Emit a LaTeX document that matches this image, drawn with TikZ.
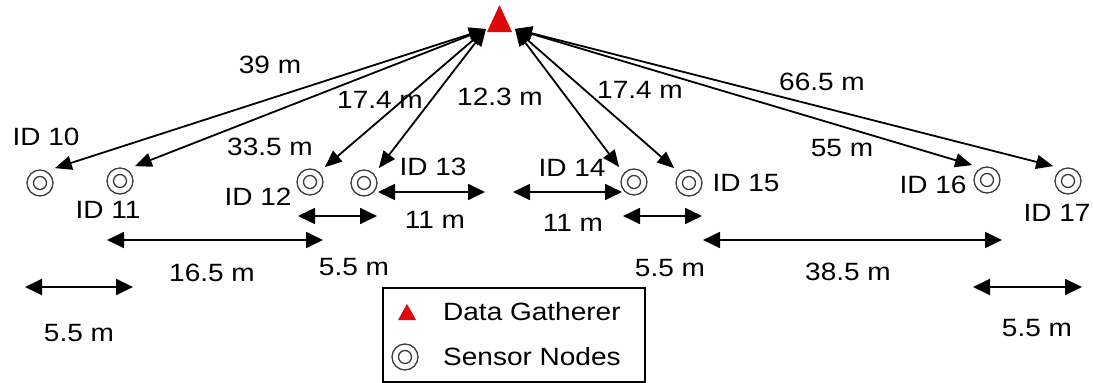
\documentclass[tikz,border=0pt]{standalone}
\usepackage{fontspec}
\setmainfont{Liberation Sans}[FakeStretch=1.12]
\usetikzlibrary{arrows.meta}
\definecolor{dgred}{RGB}{220,10,10}
\definecolor{ringcol}{RGB}{60,60,60}
\tikzset{
  lbl/.style={font=\fontsize{25}{28}\selectfont, inner sep=0pt, text=black},
  sensor/.style={circle, draw=ringcol, line width=1.3pt, minimum size=26pt, inner sep=0pt, outer sep=8pt,
    path picture={\draw[ringcol, line width=1.3pt] (path picture bounding box.center) circle (6.5pt);}},
  link/.style={line width=1.8pt, {Triangle[length=17pt,width=14pt]}-{Triangle[length=17pt,width=14pt]}},
  dim/.style={line width=1.8pt, {Triangle[length=17pt,width=16pt]}-{Triangle[length=17pt,width=16pt]}},
}
\begin{document}
\begin{tikzpicture}[x=1pt,y=-1pt]
\useasboundingbox (0,0) rectangle (1093,383);
% data gatherer
\coordinate (tA) at (499.5,5);
\coordinate (tL) at (487,32);
\coordinate (tR) at (512,32);
\fill[dgred] (tA) -- (tR) -- (tL) -- cycle;
\coordinate (gl) at (486,29);
\coordinate (gr) at (515,29);
% sensors
\node[sensor] (n10) at (40,183) {};
\node[sensor] (n11) at (120,181) {};
\node[sensor] (n12) at (310,182) {};
\node[sensor] (n13) at (364,183) {};
\node[sensor] (n14) at (634,182) {};
\node[sensor] (n15) at (689,183) {};
\node[sensor] (n16) at (987,180) {};
\node[sensor] (n17) at (1068,181) {};
% links
\draw[link] (gl) -- (n10.north east);
\draw[link] (gl) -- (n11.north east);
\draw[link] (gl) -- (n12.north east);
\draw[link] (gl) -- (n13.north east);
\draw[link] (gr) -- (n14.north west);
\draw[link] (gr) -- (n15.north west);
\draw[link] (gr) -- (n16.north west);
\draw[link] (gr) -- (n17.north west);
% link labels
\node[lbl] (l39) at (270,65) {39 m};
\node[lbl] (l174a) at (380,100) {17.4 m};
\node[lbl] (l335) at (270,147) {33.5 m};
\node[lbl] (l123) at (500,97) {12.3 m};
\node[lbl] (l174b) at (640,90) {17.4 m};
\node[lbl] (l665) at (822,82) {66.5 m};
\node[lbl] (l55) at (842,148) {55 m};
% id labels
\node[lbl] (i10) at (46,137) {ID 10};
\node[lbl] (i11) at (108,210) {ID 11};
\node[lbl] (i12) at (258,197) {ID 12};
\node[lbl] (i13) at (433,167) {ID 13};
\node[lbl] (i14) at (572,168) {ID 14};
\node[lbl] (i15) at (746,183) {ID 15};
\node[lbl] (i16) at (933,185) {ID 16};
\node[lbl] (i17) at (1057,213) {ID 17};
% dimension lines
\coordinate (a1) at (298,216); \coordinate (b1) at (377,216);
\coordinate (a2) at (378,192); \coordinate (b2) at (485,192);
\coordinate (a3) at (513,192); \coordinate (b3) at (622,192);
\coordinate (a4) at (623,216); \coordinate (b4) at (702,216);
\coordinate (a5) at (107,240); \coordinate (b5) at (323,240);
\coordinate (a6) at (703,240); \coordinate (b6) at (1002,240);
\coordinate (a7) at (25,287);  \coordinate (b7) at (133,287);
\coordinate (a8) at (973,287); \coordinate (b8) at (1082,287);
\draw[dim] (a1) -- (b1);
\draw[dim] (a2) -- (b2);
\draw[dim] (a3) -- (b3);
\draw[dim] (a4) -- (b4);
\draw[dim] (a5) -- (b5);
\draw[dim] (a6) -- (b6);
\draw[dim] (a7) -- (b7);
\draw[dim] (a8) -- (b8);
\node[lbl] (d1) at (354,267) {5.5 m};
\node[lbl] (d2) at (435,220) {11 m};
\node[lbl] (d3) at (573,223) {11 m};
\node[lbl] (d4) at (670,268) {5.5 m};
\node[lbl] (d5) at (212,273) {16.5 m};
\node[lbl] (d6) at (848,272) {38.5 m};
\node[lbl] (d7) at (79,333) {5.5 m};
\node[lbl] (d8) at (1037,328) {5.5 m};
% legend
\draw[line width=1.2pt] (383,288) rectangle (645,382);
\fill[dgred] (407,304) -- (416,320) -- (398,320) -- cycle;
\node[sensor, outer sep=0pt] (lgs) at (405,357) {};
\node[lbl, anchor=west] (lgt1) at (443,312) {Data Gatherer};
\node[lbl, anchor=west] (lgt2) at (443,357) {Sensor Nodes};
\end{tikzpicture}
\end{document}
